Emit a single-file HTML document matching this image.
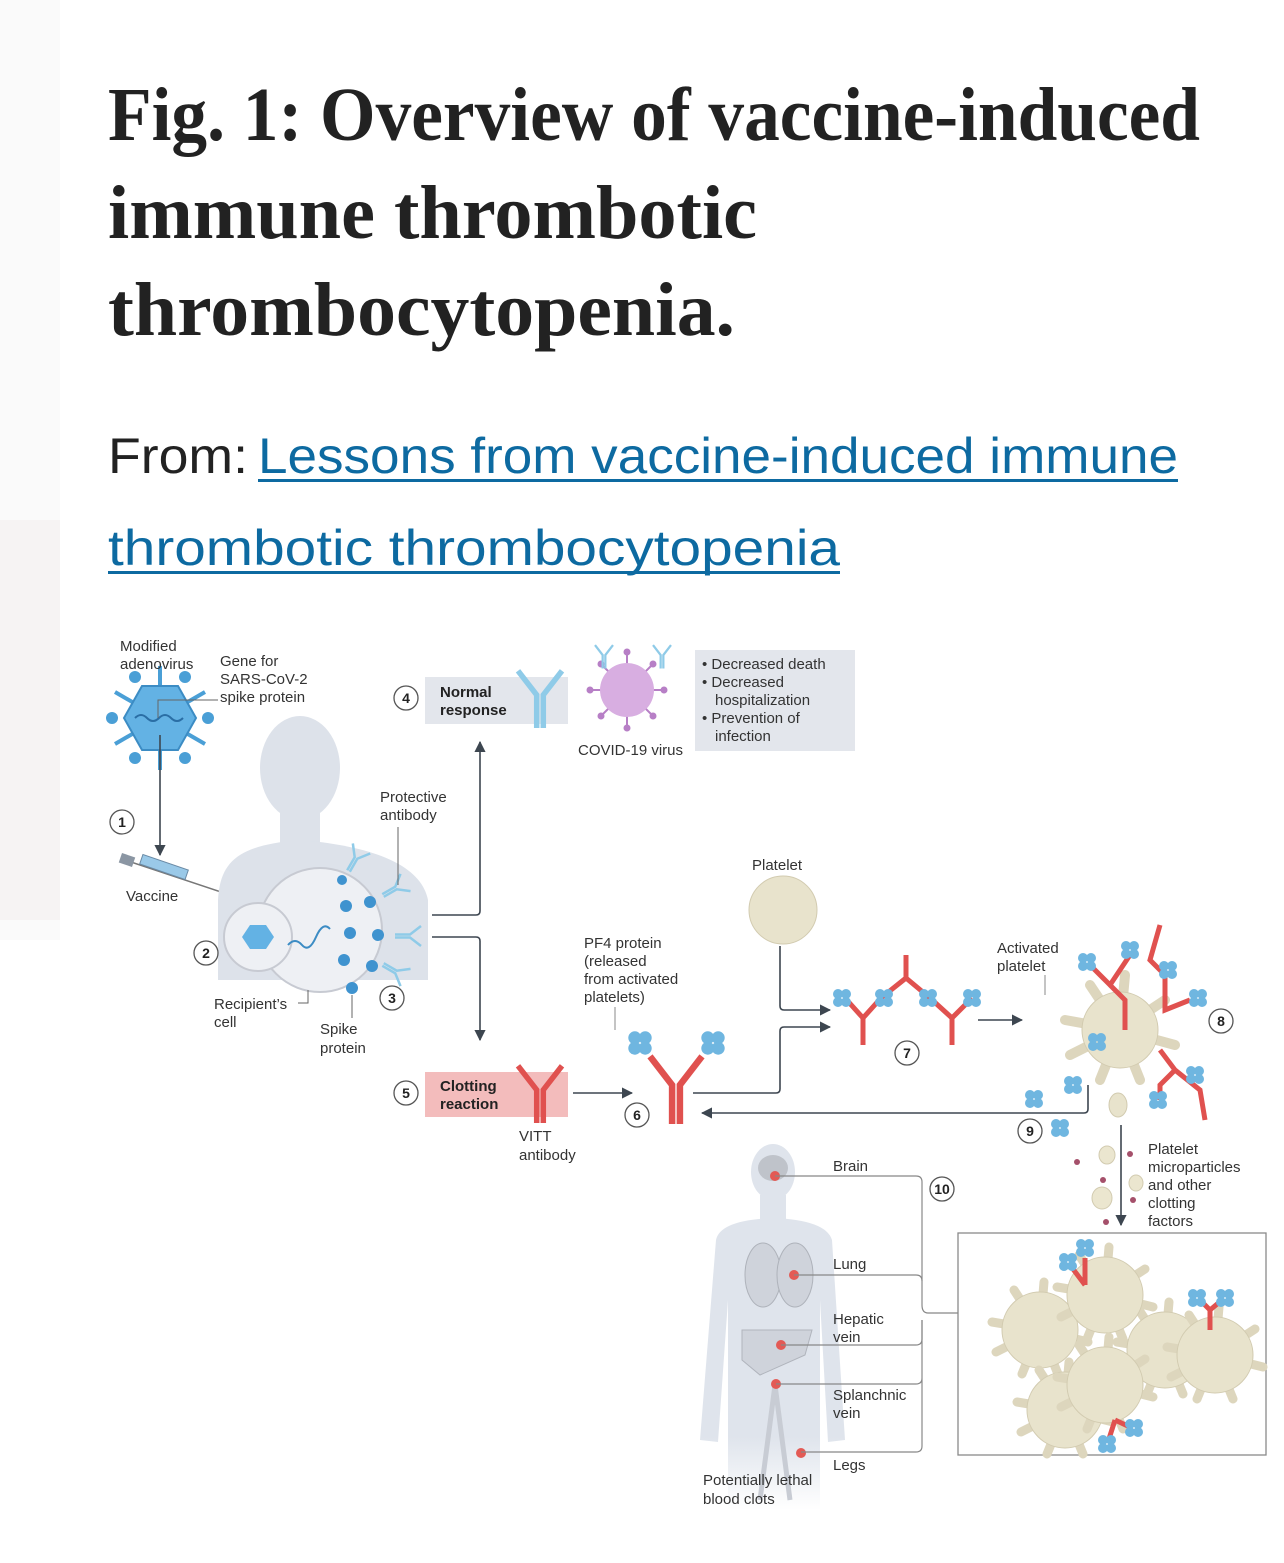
<!DOCTYPE html>
<html><head><meta charset="utf-8"><style>
html,body{margin:0;padding:0;background:#fff;}
svg{display:block}
.t{font-family:"Liberation Serif",serif;font-weight:bold;fill:#222;}
.l{font-family:"Liberation Sans",sans-serif;font-size:15px;fill:#333;}
.b{font-family:"Liberation Sans",sans-serif;font-size:15px;font-weight:bold;fill:#222;}
.n{font-family:"Liberation Sans",sans-serif;font-size:14px;font-weight:bold;fill:#222;text-anchor:middle;}
</style></head><body>
<svg width="1284" height="1563" viewBox="0 0 1284 1563" xmlns="http://www.w3.org/2000/svg">
<defs>
<g id="abR"><path d="M-3,30V0L-20,-22M3,30V0L20,-22" fill="none" stroke="#e0514f" stroke-width="5"/></g>
<g id="abB"><path d="M-3,30V0L-20,-22M3,30V0L20,-22" fill="none" stroke="#8fcbe8" stroke-width="5"/></g>
<g id="pf"><circle cx="-4" cy="-4" r="5" fill="#6fb6e0"/><circle cx="4" cy="-4" r="5" fill="#6fb6e0"/><circle cx="-4" cy="4" r="5" fill="#6fb6e0"/><circle cx="4" cy="4" r="5" fill="#6fb6e0"/></g>
<g id="nc"><circle r="12" fill="#fff" stroke="#555" stroke-width="1.3"/></g>
<g id="plt"><g stroke="#ddd6bd" stroke-width="10" stroke-linecap="round"><path d="M0,0L-55,-10M0,0L-50,25M0,0L-20,50M0,0L20,50M0,0L55,15M0,0L45,-30M0,0L5,-55M0,0L-30,-45"/></g><circle r="38" fill="#e8e3cc" stroke="#d2cbb0"/></g>
<g id="plt2"><g stroke="#ddd6bd" stroke-width="9" stroke-linecap="round"><path d="M0,0L-48,-8M0,0L-44,22M0,0L-18,44M0,0L18,44M0,0L48,12M0,0L40,-26M0,0L4,-48M0,0L-26,-40"/></g><circle r="38" fill="#e8e3cc" stroke="#d2cbb0"/></g>
<marker id="ar" viewBox="0 0 10 10" refX="9" refY="5" markerWidth="7" markerHeight="7" orient="auto"><path d="M0,0L10,5L0,10z" fill="#3d4650"/></marker>
<linearGradient id="fade" x1="0" y1="0" x2="0" y2="1"><stop offset="0.75" stop-color="#dfe4ec"/><stop offset="1" stop-color="#dfe4ec" stop-opacity="0"/></linearGradient>
</defs>
<rect x="0" y="0" width="60" height="940" fill="#fafafa"/>
<rect x="0" y="520" width="60" height="400" fill="#f6f3f3"/>
<text class="t" x="108" y="140" font-size="76" textLength="1092" lengthAdjust="spacingAndGlyphs">Fig. 1: Overview of vaccine-induced</text>
<text class="t" x="108" y="238" font-size="76" textLength="649" lengthAdjust="spacingAndGlyphs">immune thrombotic</text>
<text class="t" x="108" y="335" font-size="76" textLength="627" lengthAdjust="spacingAndGlyphs">thrombocytopenia.</text>
<text x="108" y="473" font-family="Liberation Sans,sans-serif" font-size="50" fill="#222" textLength="140" lengthAdjust="spacingAndGlyphs">From:</text>
<text x="258" y="473" font-family="Liberation Sans,sans-serif" font-size="50" fill="#0d6aa1" textLength="920" lengthAdjust="spacingAndGlyphs">Lessons from vaccine-induced immune</text>
<rect x="258" y="479" width="920" height="3" fill="#0d6aa1"/>
<text x="108" y="565" font-family="Liberation Sans,sans-serif" font-size="50" fill="#0d6aa1" textLength="732" lengthAdjust="spacingAndGlyphs">thrombotic thrombocytopenia</text>
<rect x="108" y="571" width="732" height="3" fill="#0d6aa1"/>

<!-- adenovirus -->
<g stroke="#4a9fd6" stroke-width="4"><path d="M160,718L160,666M160,718L160,770M160,718L115,692M160,718L205,692M160,718L115,744M160,718L205,744"/></g>
<g fill="#4a9fd6"><circle cx="135" cy="677" r="6"/><circle cx="185" cy="677" r="6"/><circle cx="112" cy="718" r="6"/><circle cx="208" cy="718" r="6"/><circle cx="135" cy="758" r="6"/><circle cx="185" cy="758" r="6"/></g>
<polygon points="142,686 178,686 196,718 178,750 142,750 124,718" fill="#63b2e4" stroke="#3c8cc4" stroke-width="2"/>
<path d="M135,718q6,-6 12,0t12,0t12,0t12,0" stroke="#2a6ea5" fill="none" stroke-width="2"/>
<path d="M158,718V700H218" stroke="#666" fill="none"/>
<text class="l" x="120" y="651">Modified</text><text class="l" x="120" y="669">adenovirus</text>
<text class="l" x="220" y="666">Gene for</text><text class="l" x="220" y="684">SARS-CoV-2</text><text class="l" x="220" y="702">spike protein</text>
<line x1="160" y1="735" x2="160" y2="855" stroke="#3d4650" stroke-width="1.6" marker-end="url(#ar)"/>
<use href="#nc" x="122" y="822"/><text class="n" x="122" y="827">1</text>
<!-- syringe -->
<line x1="125" y1="860" x2="224" y2="893" stroke="#777" stroke-width="1.5"/>
<rect x="140" y="862" width="48" height="10" fill="#9ac9e8" stroke="#6a8aa5" transform="rotate(19 164 867)"/>
<rect x="120" y="855" width="14" height="10" fill="#8b96a3" transform="rotate(19 127 860)"/>
<text class="l" x="126" y="901">Vaccine</text>
<!-- person -->
<ellipse cx="300" cy="768" rx="40" ry="52" fill="#dde2ea"/>
<rect x="280" y="800" width="40" height="50" fill="#dde2ea"/>
<path d="M218,900C220,860 240,845 300,840C360,845 420,860 428,900V980H218Z" fill="#dde2ea"/>
<!-- cell -->
<circle cx="320" cy="930" r="62" fill="#eef0f4" stroke="#c7cad2" stroke-width="2"/>
<circle cx="258" cy="937" r="34" fill="#eef0f4" stroke="#c7cad2" stroke-width="2"/>
<polygon points="250,925 266,925 274,937 266,949 250,949 242,937" fill="#63b2e4"/>
<path d="M288,945q7,-8 14,0t14,-8t14,-8" stroke="#3c8cc4" fill="none" stroke-width="2"/>
<g fill="#3f93cf"><circle cx="342" cy="880" r="5"/><circle cx="346" cy="906" r="6"/><circle cx="370" cy="902" r="6"/><circle cx="350" cy="933" r="6"/><circle cx="378" cy="935" r="6"/><circle cx="344" cy="960" r="6"/><circle cx="372" cy="966" r="6"/><circle cx="352" cy="988" r="6"/></g>
<g transform="translate(356,858) rotate(30) scale(.5)"><use href="#abB"/></g>
<g transform="translate(396,888) rotate(60) scale(.5)"><use href="#abB"/></g>
<g transform="translate(410,936) rotate(90) scale(.5)"><use href="#abB"/></g>
<g transform="translate(396,972) rotate(120) scale(.5)"><use href="#abB"/></g>
<text class="l" x="380" y="802">Protective</text><text class="l" x="380" y="820">antibody</text>
<line x1="398" y1="827" x2="398" y2="885" stroke="#666"/>
<use href="#nc" x="206" y="953"/><text class="n" x="206" y="958">2</text>
<use href="#nc" x="392" y="998"/><text class="n" x="392" y="1003">3</text>
<text class="l" x="214" y="1009">Recipient’s</text><text class="l" x="214" y="1027">cell</text>
<path d="M298,1003H308V990" stroke="#666" fill="none"/>
<text class="l" x="320" y="1034">Spike</text><text class="l" x="320" y="1053">protein</text>
<line x1="352" y1="995" x2="352" y2="1018" stroke="#666"/>
<!-- branch arrows -->
<path d="M432,915H476Q480,915 480,911V742" stroke="#3d4650" stroke-width="1.6" fill="none" marker-end="url(#ar)"/>
<path d="M432,937H476Q480,937 480,941V1040" stroke="#3d4650" stroke-width="1.6" fill="none" marker-end="url(#ar)"/>
<!-- normal response -->
<use href="#nc" x="406" y="698"/><text class="n" x="406" y="703">4</text>
<rect x="425" y="677" width="143" height="47" fill="#e3e6ec"/>
<text class="b" x="440" y="697">Normal</text><text class="b" x="440" y="715">response</text>
<g transform="translate(540,695) scale(1.1)"><use href="#abB"/></g>
<!-- virus -->
<g stroke="#b77fc6" stroke-width="2"><path d="M627,690L627,650M627,690L627,730M627,690L587,690M627,690L667,690M627,690L600,663M627,690L654,663M627,690L600,717M627,690L654,717"/></g>
<g fill="#b77fc6"><circle cx="627" cy="652" r="3.5"/><circle cx="627" cy="728" r="3.5"/><circle cx="590" cy="690" r="3.5"/><circle cx="664" cy="690" r="3.5"/><circle cx="601" cy="664" r="3.5"/><circle cx="653" cy="664" r="3.5"/><circle cx="601" cy="716" r="3.5"/><circle cx="653" cy="716" r="3.5"/></g>
<circle cx="627" cy="690" r="27" fill="#d8aee1"/>
<g transform="translate(604,655) scale(.45)"><use href="#abB"/></g>
<g transform="translate(662,655) scale(.45)"><use href="#abB"/></g>
<text class="l" x="578" y="755">COVID-19 virus</text>
<rect x="695" y="650" width="160" height="101" fill="#e3e6ec"/>
<text class="l" x="702" y="669">• Decreased death</text>
<text class="l" x="702" y="687">• Decreased</text>
<text class="l" x="715" y="705">hospitalization</text>
<text class="l" x="702" y="723">• Prevention of</text>
<text class="l" x="715" y="741">infection</text>
<!-- clotting -->
<use href="#nc" x="406" y="1093"/><text class="n" x="406" y="1098">5</text>
<rect x="425" y="1072" width="143" height="45" fill="#f3bcbc"/>
<text class="b" x="440" y="1091">Clotting</text><text class="b" x="440" y="1109">reaction</text>
<g transform="translate(540,1090) scale(1.1)"><use href="#abR"/></g>
<text class="l" x="519" y="1141">VITT</text><text class="l" x="519" y="1160">antibody</text>
<line x1="573" y1="1093" x2="632" y2="1093" stroke="#3d4650" stroke-width="1.6" marker-end="url(#ar)"/>
<text class="l" x="584" y="948">PF4 protein</text><text class="l" x="584" y="966">(released</text><text class="l" x="584" y="984">from activated</text><text class="l" x="584" y="1002">platelets)</text>
<line x1="615" y1="1007" x2="615" y2="1030" stroke="#888"/>
<g transform="translate(676,1085) scale(1.3)"><use href="#abR"/></g>
<g transform="translate(640,1043) scale(1.3)"><use href="#pf"/></g>
<g transform="translate(713,1043) scale(1.3)"><use href="#pf"/></g>
<use href="#nc" x="637" y="1115"/><text class="n" x="637" y="1120">6</text>
<path d="M693,1093H776Q780,1093 780,1089V1031Q780,1027 784,1027H830" stroke="#3d4650" stroke-width="1.6" fill="none" marker-end="url(#ar)"/>
<text class="l" x="752" y="870">Platelet</text>
<ellipse cx="783" cy="910" rx="34" ry="34" fill="#e8e3cc" stroke="#d2cbb0"/>
<path d="M780,946V1006Q780,1010 784,1010H830" stroke="#3d4650" stroke-width="1.6" fill="none" marker-end="url(#ar)"/>
<!-- complex 7 -->
<path d="M845,998L863,1018V1045M881,998L863,1018M881,998L906,978M906,955V978L930,998M930,998L952,1018V1045M952,1018L972,998" fill="none" stroke="#e0514f" stroke-width="5"/>
<use href="#pf" x="842" y="998"/><use href="#pf" x="884" y="998"/><use href="#pf" x="928" y="998"/><use href="#pf" x="972" y="998"/>
<use href="#nc" x="907" y="1053"/><text class="n" x="907" y="1058">7</text>
<line x1="978" y1="1020" x2="1022" y2="1020" stroke="#3d4650" stroke-width="1.6" marker-end="url(#ar)"/>
<!-- activated platelet -->
<text class="l" x="997" y="953">Activated</text><text class="l" x="997" y="971">platelet</text>
<line x1="1045" y1="975" x2="1045" y2="995" stroke="#888"/>
<use href="#plt" x="1120" y="1030"/>
<path d="M1110,985L1125,1000V1030M1090,965L1110,985L1130,955M1160,925L1150,960L1165,975V1010L1190,1000M1160,1050L1175,1070L1160,1085V1100M1175,1070L1200,1090L1205,1120" fill="none" stroke="#e0514f" stroke-width="5"/>
<use href="#pf" x="1087" y="962"/><use href="#pf" x="1130" y="950"/><use href="#pf" x="1168" y="970"/><use href="#pf" x="1198" y="998"/><use href="#pf" x="1097" y="1042"/><use href="#pf" x="1195" y="1075"/><use href="#pf" x="1158" y="1100"/><use href="#pf" x="1073" y="1085"/><use href="#pf" x="1034" y="1099"/><use href="#pf" x="1060" y="1128"/>
<use href="#nc" x="1221" y="1021"/><text class="n" x="1221" y="1026">8</text>
<ellipse cx="1118" cy="1105" rx="9" ry="12" fill="#e8e3cc" stroke="#d2cbb0"/>
<path d="M1088,1085V1109Q1088,1113 1084,1113H702" stroke="#3d4650" stroke-width="1.6" fill="none" marker-end="url(#ar)"/>
<use href="#nc" x="1030" y="1131"/><text class="n" x="1030" y="1136">9</text>
<line x1="1121" y1="1125" x2="1121" y2="1225" stroke="#3d4650" stroke-width="1.6" marker-end="url(#ar)"/>
<g fill="#a5506b"><circle cx="1077" cy="1162" r="3"/><circle cx="1130" cy="1154" r="3"/><circle cx="1103" cy="1180" r="3"/><circle cx="1133" cy="1200" r="3"/><circle cx="1106" cy="1222" r="3"/></g>
<g fill="#ebe6cf" stroke="#d2cbb0"><ellipse cx="1107" cy="1155" rx="8" ry="9"/><ellipse cx="1136" cy="1183" rx="7" ry="8"/><ellipse cx="1102" cy="1198" rx="10" ry="11"/></g>
<text class="l" x="1148" y="1154">Platelet</text><text class="l" x="1148" y="1172">microparticles</text><text class="l" x="1148" y="1190">and other</text><text class="l" x="1148" y="1208">clotting</text><text class="l" x="1148" y="1226">factors</text>
<!-- clot box -->
<rect x="958" y="1233" width="308" height="222" fill="#fff" stroke="#8a8a8a" stroke-width="1.3"/>
<use href="#plt2" x="1040" y="1330"/><use href="#plt2" x="1165" y="1350"/><use href="#plt2" x="1065" y="1410"/>
<use href="#plt2" x="1105" y="1295"/><use href="#plt2" x="1215" y="1355"/><use href="#plt2" x="1105" y="1385"/>
<path d="M1085,1285L1070,1265M1085,1285V1258M1210,1330V1310L1200,1300M1210,1310L1222,1300M1115,1420L1108,1442M1115,1420L1132,1428" fill="none" stroke="#e0514f" stroke-width="5"/>
<use href="#pf" x="1068" y="1262"/><use href="#pf" x="1085" y="1248"/><use href="#pf" x="1197" y="1298"/><use href="#pf" x="1225" y="1298"/><use href="#pf" x="1107" y="1444"/><use href="#pf" x="1134" y="1428"/>
<!-- body -->
<g fill="url(#fade)">
<ellipse cx="773" cy="1172" rx="22" ry="28" fill="#dfe4ec"/>
<rect x="760" y="1195" width="26" height="25" fill="#dfe4ec"/>
<path d="M716,1240Q720,1220 773,1218Q826,1220 832,1240L845,1440L828,1442L820,1300V1510H728V1300L718,1442L700,1440Z"/>
</g>
<ellipse cx="773" cy="1168" rx="15" ry="13" fill="#bfc3ca"/>
<ellipse cx="763" cy="1275" rx="18" ry="32" fill="#cfd3db" stroke="#aeb2ba"/>
<ellipse cx="795" cy="1275" rx="18" ry="32" fill="#cfd3db" stroke="#aeb2ba"/>
<path d="M742,1330H812L805,1355L760,1375L742,1360Z" fill="#cfd3db" stroke="#b0b4bc"/>
<path d="M775,1385L760,1500M775,1385L790,1500" stroke="#c8ccd4" stroke-width="5" fill="none"/>
<g fill="#e35a55"><circle cx="775" cy="1176" r="5"/><circle cx="794" cy="1275" r="5"/><circle cx="781" cy="1345" r="5"/><circle cx="776" cy="1384" r="5"/><circle cx="801" cy="1453" r="5"/></g>
<g stroke="#888" fill="none" stroke-width="1.2">
<path d="M775,1176H916Q922,1176 922,1182V1305Q922,1313 928,1313H958"/>
<path d="M794,1275H916Q922,1275 922,1281"/>
<path d="M781,1345H916Q922,1345 922,1339V1320"/>
<path d="M776,1384H916Q922,1384 922,1378V1320M922,1345V1446Q922,1452 916,1452H801"/>
</g>
<text class="l" x="833" y="1171">Brain</text>
<text class="l" x="833" y="1269">Lung</text>
<text class="l" x="833" y="1324">Hepatic</text><text class="l" x="833" y="1342">vein</text>
<text class="l" x="833" y="1400">Splanchnic</text><text class="l" x="833" y="1418">vein</text>
<text class="l" x="833" y="1470">Legs</text>
<use href="#nc" x="942" y="1189"/><text class="n" x="942" y="1194">10</text>
<text class="l" x="703" y="1485">Potentially lethal</text><text class="l" x="703" y="1504">blood clots</text>
</svg>
</body></html>
